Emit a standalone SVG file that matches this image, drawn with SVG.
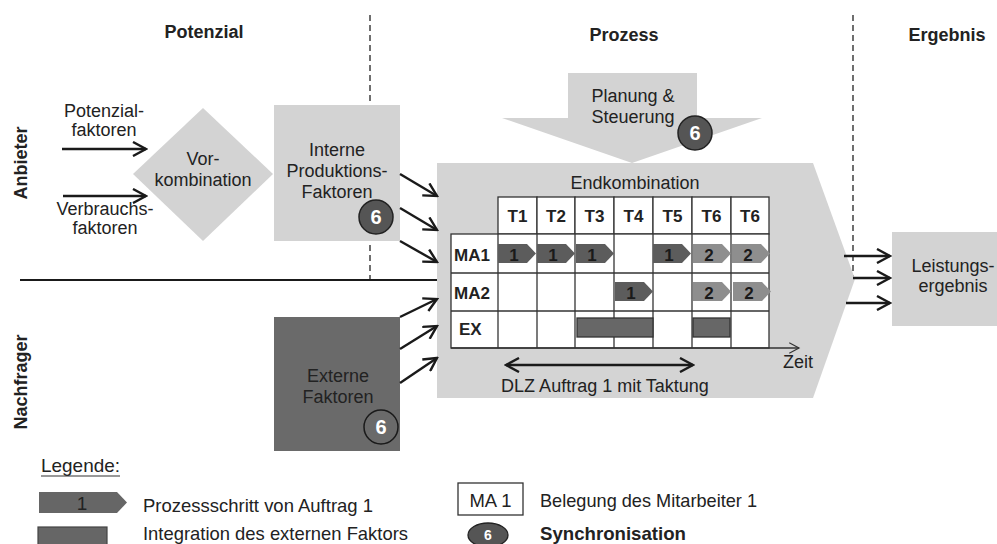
<svg xmlns="http://www.w3.org/2000/svg" width="997" height="544" viewBox="0 0 997 544">
<defs>
<style>
text{font-family:"Liberation Sans",Arial,sans-serif;fill:#222}
.t{font-size:18px;text-anchor:middle}
.h{font-size:18px;font-weight:bold;text-anchor:middle}
.tb{font-size:17px;font-weight:bold;text-anchor:middle}
.rl{font-size:17px;font-weight:bold}
.lg{font-size:19px}
.lgray{fill:#d3d3d3}
.cell{fill:#fff;stroke:#333;stroke-width:1.3}
.c1{fill:#5c5c5c}
.c2{fill:#8e8e8e}
.num{font-size:17px;font-weight:bold;text-anchor:middle;fill:#1a1a1a}
.ex{fill:#676767;stroke:#333;stroke-width:1.3}
.conn{stroke:#1a1a1a;stroke-width:2.4;fill:none}
.dash{stroke:#222;stroke-width:1.3;stroke-dasharray:6 4;fill:none}
.badge{fill:#555;stroke:#222;stroke-width:1.5}
.bnum{font-size:20px;font-weight:bold;text-anchor:middle;fill:#fff}
</style>
<marker id="ah" viewBox="-1 -1 16 16" refX="13" refY="7" markerWidth="16" markerHeight="16" markerUnits="userSpaceOnUse" orient="auto-start-reverse">
<path d="M0,0 L13,7 L0,14" fill="none" stroke="#1a1a1a" stroke-width="2.4"/>
</marker>
<marker id="ahs" viewBox="-1 -1 16 16" refX="13" refY="7" markerWidth="12" markerHeight="12" markerUnits="userSpaceOnUse" orient="auto">
<path d="M0,0 L13,7 L0,14" fill="none" stroke="#333" stroke-width="1.6"/>
</marker>
<path id="chev" d="M0,0 H29 L38,9.5 L29,19 H0 Z"/>
</defs>

<g id="headers">
<text class="h" x="204" y="38">Potenzial</text>
<text class="h" x="624" y="41">Prozess</text>
<text class="h" x="947" y="41">Ergebnis</text>
<text class="h" transform="translate(27,163) rotate(-90)">Anbieter</text>
<text class="h" transform="translate(27,382) rotate(-90)">Nachfrager</text>
</g>

<g id="separators">
<line class="dash" x1="370" y1="15" x2="370" y2="280"/>
<line class="dash" x1="853" y1="15" x2="853" y2="278"/>
<line x1="20" y1="280" x2="438" y2="280" stroke="#1a1a1a" stroke-width="2"/>
</g>

<g id="input-labels">
<text class="t" x="104" y="117">Potenzial-</text>
<text class="t" x="104" y="136">faktoren</text>
<text class="t" x="105" y="215">Verbrauchs-</text>
<text class="t" x="105" y="234">faktoren</text>
</g>

<g id="vorkombination">
<polygon class="lgray" points="203,108 273,174 203,241 133,174"/>
<text class="t" x="203" y="165">Vor-</text>
<text class="t" x="203" y="186">kombination</text>
</g>

<g id="interne">
<rect class="lgray" x="274" y="105" width="126" height="136"/>
<text class="t" x="337" y="156">Interne</text>
<text class="t" x="337" y="177">Produktions-</text>
<text class="t" x="337" y="198">Faktoren</text>
<circle class="badge" cx="376" cy="217" r="17"/>
<text class="bnum" x="376" y="224">6</text>
</g>

<g id="externe">
<rect x="274" y="317" width="126" height="134" fill="#6a6a6a"/>
<text class="t" x="338" y="382">Externe</text>
<text class="t" x="338" y="403">Faktoren</text>
<circle cx="381" cy="427" r="17" fill="#6a6a6a" stroke="#1a1a1a" stroke-width="1.5"/>
<text class="bnum" x="381" y="434">6</text>
</g>

<g id="prozess">
<polygon fill="#d4d4d4" points="437,163 813,163 855,279 813,398 437,398"/>
<text class="t" x="635" y="189">Endkombination</text>
</g>

<g id="planung">
<polygon class="lgray" points="568,73 697,73 697,118 762,118 632,163 502,118 568,118"/>
<text class="t" x="633" y="102">Planung &amp;</text>
<text class="t" x="633" y="123">Steuerung</text>
<circle class="badge" cx="695" cy="133" r="17"/>
<text class="bnum" x="695" y="140">6</text>
</g>

<g id="ergebnis">
<rect class="lgray" x="892" y="232" width="105" height="94"/>
<text class="t" x="953" y="272">Leistungs-</text>
<text class="t" x="953" y="292">ergebnis</text>
</g>

<g id="table">
<rect class="cell" x="498" y="197" width="39" height="37"/>
<rect class="cell" x="537" y="197" width="38" height="37"/>
<rect class="cell" x="575" y="197" width="39" height="37"/>
<rect class="cell" x="614" y="197" width="39" height="37"/>
<rect class="cell" x="653" y="197" width="39" height="37"/>
<rect class="cell" x="692" y="197" width="39" height="37"/>
<rect class="cell" x="731" y="197" width="38" height="37"/>
<rect class="cell" x="451" y="234" width="318" height="114"/>
<g stroke="#333" stroke-width="1.3">
<line x1="498" y1="234" x2="498" y2="348"/>
<line x1="537" y1="234" x2="537" y2="348"/>
<line x1="575" y1="234" x2="575" y2="348"/>
<line x1="614" y1="234" x2="614" y2="348"/>
<line x1="653" y1="234" x2="653" y2="348"/>
<line x1="692" y1="234" x2="692" y2="348"/>
<line x1="731" y1="234" x2="731" y2="348"/>
<line x1="451" y1="273" x2="769" y2="273"/>
<line x1="451" y1="311" x2="769" y2="311"/>
</g>
<text class="tb" x="517.5" y="222">T1</text>
<text class="tb" x="556" y="222">T2</text>
<text class="tb" x="594.5" y="222">T3</text>
<text class="tb" x="633.5" y="222">T4</text>
<text class="tb" x="672.5" y="222">T5</text>
<text class="tb" x="711.5" y="222">T6</text>
<text class="tb" x="750" y="222">T6</text>
<text class="rl" x="454" y="261">MA1</text>
<text class="rl" x="454" y="299">MA2</text>
<text class="rl" x="459" y="335">EX</text>

<use href="#chev" class="c1" x="498" y="244"/><text class="num" x="514" y="261">1</text>
<use href="#chev" class="c1" x="537" y="244"/><text class="num" x="553" y="261">1</text>
<use href="#chev" class="c1" x="576" y="244"/><text class="num" x="592" y="261">1</text>
<use href="#chev" class="c1" x="653" y="244"/><text class="num" x="669" y="261">1</text>
<use href="#chev" class="c2" x="693" y="244"/><text class="num" x="709" y="261">2</text>
<use href="#chev" class="c2" x="732" y="244"/><text class="num" x="748" y="261">2</text>
<use href="#chev" class="c1" x="615" y="282"/><text class="num" x="631" y="299">1</text>
<use href="#chev" class="c2" x="693" y="282"/><text class="num" x="709" y="299">2</text>
<use href="#chev" class="c2" x="733" y="282"/><text class="num" x="749" y="299">2</text>

<rect class="ex" x="577" y="318" width="76" height="19"/>
<rect class="ex" x="693" y="318" width="37" height="19"/>

<line x1="451" y1="348" x2="799" y2="348" stroke="#333" stroke-width="1.3" marker-end="url(#ahs)"/>
<text x="783" y="368" style="font-size:18px">Zeit</text>
<text class="t" x="605" y="392">DLZ Auftrag 1 mit Taktung</text>
</g>

<g id="connectors">
<line class="conn" x1="62" y1="149" x2="146" y2="149" marker-end="url(#ah)"/>
<line class="conn" x1="63" y1="196" x2="146" y2="196" marker-end="url(#ah)"/>
<line class="conn" x1="400" y1="174" x2="437" y2="196" marker-end="url(#ah)"/>
<line class="conn" x1="400" y1="208" x2="437" y2="230" marker-end="url(#ah)"/>
<line class="conn" x1="400" y1="241" x2="437" y2="262" marker-end="url(#ah)"/>
<line class="conn" x1="400" y1="317" x2="437" y2="299" marker-end="url(#ah)"/>
<line class="conn" x1="400" y1="349" x2="437" y2="326" marker-end="url(#ah)"/>
<line class="conn" x1="400" y1="383" x2="437" y2="358" marker-end="url(#ah)"/>
<line class="conn" x1="844" y1="256" x2="890" y2="256" marker-end="url(#ah)"/>
<line class="conn" x1="853" y1="278" x2="890" y2="278" marker-end="url(#ah)"/>
<line class="conn" x1="846" y1="303" x2="890" y2="303" marker-end="url(#ah)"/>
<line class="conn" x1="506" y1="365" x2="693" y2="365" marker-start="url(#ah)" marker-end="url(#ah)"/>
</g>

<g id="legend">
<text class="lg" x="41" y="472" textLength="79" lengthAdjust="spacingAndGlyphs">Legende:</text>
<line x1="41" y1="476" x2="120" y2="476" stroke="#333" stroke-width="1.2"/>
<path d="M39,492 H117 L127,502.5 L117,513 H39 Z" fill="#666"/>
<text class="lg" x="82" y="510" text-anchor="middle">1</text>
<text class="lg" x="143" y="512" textLength="230" lengthAdjust="spacingAndGlyphs">Prozessschritt von Auftrag 1</text>
<rect x="38" y="527" width="69" height="24" fill="#666" stroke="#444" stroke-width="1.2"/>
<text class="lg" x="143" y="540" textLength="265" lengthAdjust="spacingAndGlyphs">Integration des externen Faktors</text>
<rect x="458" y="483" width="65" height="32" fill="#fff" stroke="#333" stroke-width="1.3"/>
<text class="lg" x="490.5" y="507" text-anchor="middle" textLength="42" lengthAdjust="spacingAndGlyphs">MA 1</text>
<text class="lg" x="540" y="507" textLength="217" lengthAdjust="spacingAndGlyphs">Belegung des Mitarbeiter 1</text>
<ellipse cx="488" cy="535" rx="20" ry="12" fill="#555" stroke="#222" stroke-width="1.3"/>
<text class="bnum" x="488" y="540" style="font-size:14px">6</text>
<text class="lg" x="540" y="540" font-weight="bold" textLength="146" lengthAdjust="spacingAndGlyphs">Synchronisation</text>
</g>
</svg>
